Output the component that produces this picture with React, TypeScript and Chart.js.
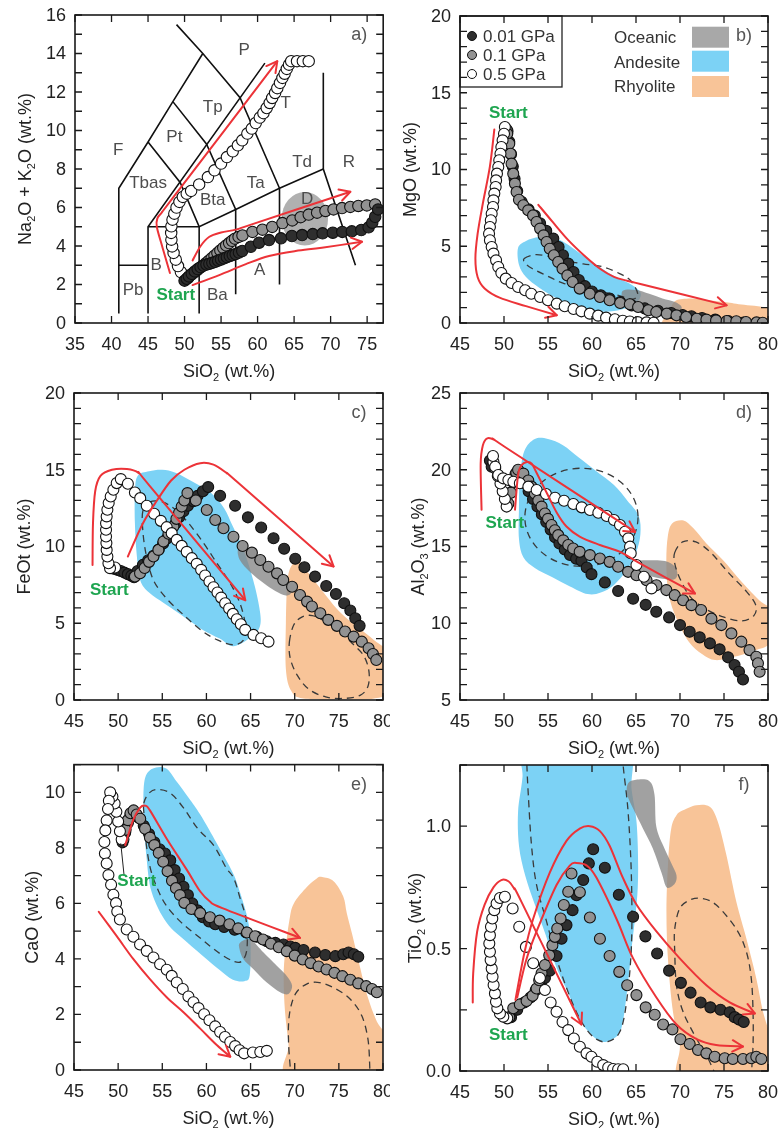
import React, { useEffect, useRef } from 'react';
import { Chart, registerables } from 'chart.js';

Chart.register(...registerables);

type P = [number, number];

const FONT = '"Liberation Sans", Arial, Helvetica, sans-serif';
const RED = '#ec3338';
const GREEN = '#1ea550';
const BLUE = '#7cd2f5';
const ORANGE = '#f8c498';
const OCEAN = 'rgba(135,135,135,0.78)';
const OCEAN_SOLID = '#b0b0b0';
const DASH = '#3a3a3a';
const FILL_001 = '#2e2e2e';
const FILL_01 = '#929292';
const FILL_05 = '#ffffff';

const seriesLabels = ['0.01 GPa', '0.1 GPa', '0.5 GPa'];
const fieldLabels = ['Oceanic', 'Andesite', 'Rhyolite'];
const xTitle = 'SiO_2 (wt.%)';

// ---------------- Panel a (TAS) ----------------
const aWhite: P[] = [[50.1,2.3],[49.5,2.65],[49.1,2.96],[48.8,3.29],[48.5,3.64],[48.3,3.98],[48.2,4.33],[48.17,4.68],[48.2,5.02],[48.35,5.37],[48.6,5.68],[48.9,6.0],[49.3,6.29],[49.76,6.55],[50.3,6.72],[50.9,6.86],[52.0,7.2],[53.2,7.58],[54.1,7.93],[55.0,8.28],[55.8,8.62],[56.6,8.92],[57.3,9.23],[57.9,9.49],[58.6,9.84],[59.2,10.1],[59.75,10.39],[60.3,10.67],[60.8,10.9],[61.25,11.17],[61.66,11.43],[62.0,11.69],[62.4,11.95],[62.7,12.2],[63.07,12.47],[63.4,12.73],[63.7,12.95],[64.0,13.2],[64.3,13.42],[64.6,13.6],[65.4,13.6],[66.2,13.6],[67.0,13.6]];
const aGray: P[] = [[50.5,2.35],[50.9,2.5],[51.3,2.62],[51.7,2.74],[52.1,2.86],[52.5,2.98],[52.9,3.1],[53.3,3.23],[53.7,3.36],[54.1,3.5],[54.5,3.63],[54.9,3.77],[55.3,3.9],[55.7,4.03],[56.1,4.15],[56.5,4.27],[56.9,4.38],[57.4,4.47],[57.93,4.55],[59.3,4.73],[60.66,4.85],[62.0,4.99],[63.4,5.19],[64.75,5.33],[65.9,5.5],[67.0,5.63],[68.15,5.73],[69.3,5.82],[70.4,5.9],[71.56,5.97],[72.7,6.03],[73.8,6.08],[74.96,6.11],[76.1,6.16]];
const aBlack: P[] = [[50.0,2.2],[50.3,2.3],[50.6,2.42],[51.0,2.55],[51.4,2.68],[51.8,2.8],[52.2,2.9],[52.6,2.98],[53.0,3.04],[53.4,3.08],[53.8,3.13],[54.2,3.18],[54.6,3.24],[55.0,3.3],[55.4,3.36],[55.8,3.42],[56.2,3.48],[56.6,3.53],[57.0,3.58],[57.45,3.66],[57.9,3.74],[59.07,3.96],[60.2,4.17],[61.57,4.31],[63.2,4.4],[64.7,4.52],[66.1,4.57],[67.56,4.62],[68.9,4.66],[70.3,4.69],[71.6,4.73],[72.9,4.76],[74.2,4.83],[75.2,4.97],[75.7,5.21],[76.1,5.52],[76.5,5.9]];
const tasLines: P[][] = [
  [[41,0.5],[41,7],[45,9.4],[48.4,11.5],[52.5,14]],
  [[48.9,15.5],[52.5,14],[57.6,11.7],[63,7]],
  [[41,3],[45,3]],
  [[45,0.5],[45,5],[61,13.5]],
  [[45,5],[52,5],[57,5.9],[63,7],[69,8]],
  [[45,9.4],[49.4,7.3],[52,5],[52,0.5]],
  [[48.4,11.5],[53,9.3],[57,5.9],[57,1.5]],
  [[63,7],[63,2]],
  [[69,13],[69,8],[73.4,3]],
];
const tasNames = ['P','Tp','T','Pt','F','Tbas','Bta','Ta','Td','R','D','B','Pb','Ba','A'];
const tasNameX = [58.16,53.85,63.84,48.6,40.9,45.0,53.85,59.75,66.1,72.5,66.8,46.1,42.95,54.5,60.3];
const tasNameY = [14.16,11.2,11.4,9.66,8.97,7.24,6.37,7.27,8.33,8.36,6.4,3.0,1.7,1.44,2.74];
const aOceanCenter: P = [66.47, 5.42];
const aOceanRadii: P = [3.18, 1.39];
const aArrows: P[][] = [
  [[48.0,2.6],[47.0,3.9],[46.2,5.0],[46.3,5.45],[46.9,5.75],[48.5,6.55],[62.7,13.6]],
  [[51.1,3.25],[52.2,4.0],[53.4,4.48],[55.0,4.7],[57.0,4.85],[59.0,5.1],[72.7,6.82]],
  [[51.1,1.97],[54.75,2.49],[58.4,3.06],[61.57,3.48],[65.2,3.74],[68.8,3.91],[74.3,4.22]],
];
const aStart: P = [48.8, 1.44];

// ---------------- Panel b (MgO) ----------------
const bWhite: P[] = [[50.1,12.77],[50.0,12.33],[49.84,11.9],[49.7,11.47],[49.6,11.03],[49.46,10.6],[49.35,10.16],[49.2,9.73],[49.1,9.29],[49.05,8.86],[48.9,8.43],[48.8,7.99],[48.75,7.56],[48.6,7.12],[48.5,6.69],[48.4,6.25],[48.3,5.82],[48.4,5.39],[48.6,4.95],[48.8,4.52],[49.1,4.08],[49.35,3.65],[49.7,3.26],[50.2,2.89],[50.86,2.61],[51.6,2.35],[52.4,2.13],[53.1,1.91],[54.1,1.69],[55.0,1.48],[56.0,1.26],[56.9,1.09],[57.9,0.91],[58.8,0.76],[59.75,0.61],[60.7,0.48],[61.6,0.35],[62.6,0.24],[63.5,0.15],[64.3,0.1],[65.2,0.06],[66.2,0.04],[67.0,0.02]];
const bGray: P[] = [[50.3,12.6],[50.37,12.33],[50.6,11.68],[50.75,11.03],[50.86,10.38],[51.05,9.73],[51.24,9.08],[51.43,8.53],[51.7,8.03],[52.2,7.67],[52.75,7.34],[53.3,7.01],[53.7,6.58],[54.1,6.15],[54.5,5.71],[54.84,5.28],[55.2,4.84],[55.67,4.41],[56.16,3.97],[56.65,3.54],[57.2,3.1],[57.8,2.67],[58.6,2.24],[59.75,1.91],[60.9,1.69],[62.0,1.48],[63.2,1.3],[64.3,1.22],[65.24,1.04],[66.4,0.83],[67.3,0.72],[68.5,0.61],[69.6,0.5],[70.7,0.39],[71.9,0.28],[73.0,0.22],[74.1,0.17],[75.3,0.13],[76.4,0.11],[77.5,0.07],[78.7,0.04],[79.4,0.02]];
const bBlack: P[] = [[50.4,12.5],[50.6,11.8],[50.8,11.0],[51.0,10.2],[51.2,9.4],[51.5,8.6],[52.0,7.9],[52.8,7.4],[53.5,7.0],[54.1,6.5],[54.8,6.0],[55.6,5.5],[56.2,4.95],[56.7,4.41],[57.3,3.87],[57.9,3.32],[58.5,2.8],[59.2,2.4],[60.0,2.05],[61.0,1.8],[62.0,1.6],[63.2,1.37],[64.5,1.15],[66.0,0.95],[67.5,0.8],[69.0,0.65],[70.3,0.52],[71.3,0.43],[72.5,0.33],[74.0,0.22],[75.5,0.12],[77.2,0.03]];
const bAndesite: P[] = [[51.6,4.9],[52.5,5.35],[54,5.6],[55.5,5.6],[57,5.2],[58.5,4.6],[60,4.0],[61.5,3.4],[63,2.9],[64.5,2.5],[65.5,2.0],[65.3,1.5],[64,1.0],[62,0.75],[60,0.8],[58,1.1],[56,1.6],[54,2.3],[52.5,3.0],[51.7,3.8]];
const bAndesiteDash: P[] = [[52.3,4.2],[53.5,4.45],[55,4.35],[57,4.05],[59,3.85],[61.3,3.65],[63.2,3.2],[64.4,2.75],[65.2,1.9],[64.6,1.55],[63,1.8],[61,2.05],[59,2.3],[56.7,2.6],[54.8,3.1],[53.2,3.55],[52.4,3.9]];
const bOceanic: P[] = [[63.5,2.1],[65,2.15],[66.5,1.9],[68,1.6],[69.5,1.35],[70.2,1.0],[69.5,0.65],[68,0.8],[66.5,1.0],[65,1.2],[63.6,1.5]];
const bRhyolite: P[] = [[68.8,-0.3],[68.9,0.8],[69.5,1.45],[71.2,1.6],[73,1.5],[75,1.37],[77,1.2],[80.5,0.85],[80.5,-0.3]];
const bArrows: P[][] = [
  [[48.9,12.6],[48.4,10.2],[47.6,7.8],[47.0,5.8],[46.75,4.2],[47.0,3.0],[47.8,2.25],[49.5,1.65],[52.5,1.1],[56.0,0.5]],
  [[53.9,7.7],[55.5,6.6],[57.3,5.4],[59.3,4.3],[61,3.5],[62.5,3.0],[64,2.75],[65.5,2.54],[75.3,1.15]],
];
const bStart: P = [50.49, 13.64];

// ---------------- Panel c (FeOt) ----------------
const cWhite: P[] = [[49.65,8.63],[49.08,8.59],[48.9,8.91],[48.78,9.35],[48.7,9.78],[48.67,10.22],[48.63,10.65],[48.63,11.09],[48.63,11.52],[48.7,11.96],[48.78,12.39],[48.93,12.83],[49.16,13.26],[49.46,13.7],[49.84,14.13],[50.3,14.39],[51.1,14.09],[51.9,13.52],[52.5,13.15],[53.24,12.65],[54.07,12.13],[54.83,11.67],[55.5,11.26],[56.07,10.87],[56.64,10.43],[57.2,10.04],[57.77,9.65],[58.34,9.24],[58.9,8.87],[59.4,8.48],[59.85,8.11],[60.34,7.72],[60.8,7.35],[61.25,7.0],[61.67,6.67],[62.12,6.3],[62.57,5.96],[63.0,5.61],[63.44,5.26],[63.9,4.93],[64.39,4.57],[65.33,4.24],[66.2,4.02],[67.03,3.8]];
const cGray: P[] = [[51.9,8.05],[52.48,8.26],[53.0,8.6],[53.5,9.0],[54.0,9.35],[54.56,9.78],[55.13,10.33],[55.7,10.83],[56.26,11.3],[56.6,11.8],[56.9,12.2],[57.2,12.6],[57.5,13.0],[57.85,13.48],[58.8,13.0],[60.04,12.38],[61.0,11.73],[61.93,11.19],[63.06,10.64],[64.1,10.03],[65.15,9.6],[66.1,9.12],[67.03,8.68],[68.0,8.25],[68.7,7.82],[69.7,7.38],[70.6,6.84],[71.4,6.41],[71.95,6.09],[72.9,5.65],[73.8,5.22],[74.78,4.83],[75.7,4.46],[76.67,4.13],[77.6,3.8],[78.37,3.37],[78.86,3.0],[79.24,2.61]];
const cBlack: P[] = [[49.5,8.55],[49.9,8.48],[50.3,8.4],[50.7,8.3],[51.1,8.2],[51.5,8.1],[51.8,8.0],[52.2,8.4],[52.8,8.8],[53.4,9.1],[54.0,9.4],[54.6,9.8],[55.1,10.2],[55.5,10.5],[56.0,11.0],[56.5,11.5],[56.9,11.9],[57.4,12.3],[57.9,12.65],[58.5,12.95],[59.0,13.3],[59.6,13.6],[60.2,13.87],[61.55,13.3],[63.25,12.65],[64.7,11.9],[66.2,11.24],[67.6,10.54],[68.8,9.85],[70.06,9.2],[71.1,8.65],[72.3,8.04],[73.57,7.43],[74.67,6.91],[75.6,6.3],[76.3,5.83],[76.86,5.33],[77.35,4.83]];
const cAndesite: P[] = [[52.2,14.6],[53.5,14.9],[55,15.0],[56.5,14.8],[58.5,14.2],[60.5,13.5],[62,12.5],[63,11.3],[64.2,9.8],[65.3,7.8],[66.0,6.0],[66.1,4.9],[65.3,4.2],[63.1,3.5],[61.5,4.0],[59.5,4.6],[57,5.6],[55.2,6.3],[53.5,7.0],[52.5,7.8],[52.1,9.5],[51.9,11.5],[51.9,13.5]];
const cAndesiteDash: P[] = [[52.8,12.3],[53.6,12.9],[55,12.9],[56.5,12.4],[58,11.5],[59.7,10.2],[61.2,8.9],[62.7,7.6],[63.8,6.3],[64.4,4.9],[64.2,3.9],[63,3.6],[61.3,3.9],[59.5,4.5],[57.5,5.5],[55.5,6.6],[54,7.8],[53.2,9.4],[52.8,11]];
const cOceanic: P[] = [[63.6,9.8],[64.6,9.7],[65.8,9.2],[67,8.6],[68.2,8.0],[69.3,7.5],[69.6,7.0],[69,6.8],[67.8,7.1],[66.5,7.6],[65,8.3],[63.8,9.1]];
const cRhyolite: P[] = [[69.2,7.9],[69.8,8.9],[70.4,9.1],[71.5,8.3],[73,7.2],[75,5.8],[77,4.8],[79,3.9],[80.5,3],[80.5,0.6],[79,0.1],[76,0.05],[71,0.1],[69.6,0.6],[69.0,2],[69.0,5]];
const cRhyoliteDash: P[] = [[69.4,3.8],[69.9,4.9],[70.8,5.4],[72,5.5],[73.5,5.1],[75,4.5],[76.5,3.7],[77.8,2.9],[78.4,1.9],[78.3,0.9],[77.4,0.3],[75.5,0.1],[73.5,0.2],[71.6,0.7],[70.3,1.6],[69.5,2.7]];
const cArrows: P[][] = [
  [[47.1,8.8],[47.15,11.5],[47.4,13.6],[48.0,14.6],[49.3,15.0],[51,15.05],[52.3,14.8],[53.5,14.0],[64.4,6.5]],
  [[51.1,9.35],[52.8,11.5],[54.4,13.0],[56,14.3],[57.5,15.0],[59.3,15.43],[60.8,15.33],[62.3,14.78],[63.5,14.2],[74.4,8.7]],
];
const cStart: P = [49.0, 7.17];

// ---------------- Panel d (Al2O3) ----------------
const dWhite: P[] = [[50.3,17.6],[50.1,18.1],[49.85,18.6],[49.6,19.1],[49.3,19.6],[49.0,20.1],[48.8,20.5],[48.75,20.9],[49.0,20.2],[49.35,19.66],[49.9,19.44],[50.5,19.33],[51.06,19.22],[51.8,19.12],[52.77,18.9],[53.71,18.68],[54.77,18.42],[55.8,18.18],[56.82,17.98],[57.88,17.77],[58.83,17.55],[59.77,17.38],[60.72,17.2],[61.67,16.99],[62.5,16.73],[63.18,16.4],[63.75,15.96],[64.13,15.53],[64.32,14.99],[64.4,14.56],[65.05,13.79],[65.9,13.03],[66.76,12.27]];
const dGray: P[] = [[50.5,17.8],[50.8,18.5],[51.1,19.2],[51.4,19.8],[51.6,20.0],[52.2,19.75],[52.76,19.3],[53.13,18.9],[53.5,18.45],[53.9,18.0],[54.27,17.6],[54.65,17.15],[55.0,16.8],[55.4,16.4],[55.78,16.06],[56.16,15.74],[56.73,15.4],[57.3,15.1],[57.86,14.87],[58.6,14.65],[59.76,14.44],[60.9,14.22],[62.0,14.0],[62.97,13.68],[64.1,13.35],[65.05,13.13],[66.2,12.8],[67.32,12.48],[68.45,12.16],[69.4,11.83],[70.35,11.5],[71.3,11.18],[72.4,10.86],[73.57,10.3],[74.7,9.88],[75.84,9.34],[76.97,8.8],[77.9,8.25],[78.67,7.82],[78.86,7.39],[79.05,6.84]];
const dBlack: P[] = [[48.4,20.6],[48.6,20.2],[50.4,17.7],[50.7,18.5],[51.0,19.2],[51.3,19.7],[51.8,19.6],[52.3,19.1],[52.8,18.6],[53.3,18.1],[53.8,17.6],[54.3,17.1],[54.8,16.6],[55.3,16.1],[55.8,15.6],[56.3,15.2],[56.9,14.8],[57.5,14.45],[58.2,14.2],[58.8,14.07],[59.4,13.63],[59.94,13.2],[61.46,12.66],[62.97,12.1],[64.67,11.6],[66.1,11.2],[67.3,10.75],[68.76,10.38],[70.0,9.88],[71.1,9.45],[72.24,9.08],[73.4,8.69],[74.5,8.3],[75.46,7.78],[76.2,7.28],[76.7,6.84],[77.16,6.34]];
const dAndesite: P[] = [[52.3,21.2],[53.5,22.0],[55,22.0],[56.7,21.6],[58.5,20.8],[60.5,19.9],[62.5,19.0],[64,18.0],[65.3,17],[65.5,15.8],[65,14.6],[64,13.5],[62.5,12.5],[61,12],[59.5,11.9],[57.5,12.4],[55.5,13],[53.5,13.6],[52.2,14.3],[51.7,15.5],[51.7,17.5],[51.8,19.5]];
const dAndesiteCenter: P = [58.8, 16.9];
const dAndesiteRadii: P = [6.43, 3.2];
const dOceanic: P[] = [[64.8,14.0],[66.5,14.1],[68.3,14.05],[69.4,13.7],[69.7,13.2],[69.3,12.85],[68,12.9],[66.5,13.1],[65,13.4]];
const dRhyolite: P[] = [[68.6,15.6],[69.1,16.5],[70.4,16.7],[71.5,16.2],[73,15.2],[74.9,14.1],[77,12.7],[79,11.5],[80.3,10.8],[80.3,8.8],[78.3,8.2],[76,7.8],[74,7.6],[72.5,8.0],[71,8.8],[69.6,10.3],[68.7,11.9],[68.45,13.9]];
const dRhyoliteDash: P[] = [[69.4,14.6],[70.3,15.3],[71.8,15.3],[73.5,14.6],[75.5,13.3],[77.5,12.1],[78.6,11.2],[78.4,10.5],[77,10.15],[75,10.4],[73,10.9],[71.2,11.7],[70,12.9],[69.4,13.9]];
const dArrows: P[][] = [
  [[47.45,17.4],[47.35,20.4],[47.6,21.6],[48.1,22.05],[48.9,21.95],[50.2,21.45],[64.9,15.95]],
  [[51.25,17.4],[51.6,19.66],[52.0,20.3],[52.6,20.5],[53.15,20.4],[53.7,19.8],[54.85,18.5],[56.0,17.2],[57.1,16.3],[58.6,15.65],[60.9,15.1],[63.2,14.65],[65.45,13.9],[71.7,11.94]],
];
const dStart: P = [50.1, 16.5];

// ---------------- Panel e (CaO) ----------------
const eWhite: P[] = [[50.4,8.3],[50.2,8.6],[50.0,8.95],[49.8,9.3],[49.6,9.6],[49.35,9.85],[49.1,10.0],[48.95,9.7],[48.85,9.4],[48.7,8.99],[48.55,8.63],[48.44,8.21],[48.5,7.8],[48.7,7.44],[48.9,7.02],[49.2,6.67],[49.46,6.31],[49.76,6.01],[49.9,5.71],[50.2,5.42],[50.97,5.06],[51.73,4.8],[52.48,4.52],[53.24,4.29],[54.0,4.05],[54.75,3.81],[55.5,3.61],[56.07,3.39],[56.64,3.15],[57.32,2.92],[57.96,2.65],[58.53,2.44],[59.1,2.23],[59.74,2.01],[60.34,1.79],[60.99,1.57],[61.55,1.37],[62.1,1.19],[62.7,1.01],[63.25,0.86],[63.75,0.71],[64.27,0.6],[65.26,0.63],[66.1,0.65],[66.84,0.69]];
const eGray: P[] = [[50.6,8.3],[50.85,8.65],[51.1,9.0],[51.4,9.25],[51.75,9.35],[52.1,9.2],[52.5,9.05],[53.05,8.69],[53.6,8.37],[54.1,8.1],[54.6,7.82],[55.1,7.5],[55.6,7.16],[56.1,6.82],[56.55,6.55],[57.0,6.3],[57.5,6.02],[58.3,5.8],[59.3,5.65],[60.4,5.5],[61.5,5.38],[62.6,5.25],[63.6,5.1],[64.6,4.95],[65.5,4.82],[66.4,4.7],[67.3,4.55],[68.2,4.42],[69.1,4.28],[70.0,4.12],[70.9,3.98],[71.8,3.85],[72.7,3.73],[73.6,3.62],[74.5,3.5],[75.4,3.38],[76.3,3.25],[77.2,3.12],[78.1,3.02],[78.75,2.92],[79.3,2.8]];
const eBlack: P[] = [[50.5,8.2],[50.8,8.55],[51.1,8.9],[51.4,9.2],[51.7,9.3],[52.3,9.1],[52.9,8.8],[53.5,8.5],[54.1,8.2],[54.7,7.95],[55.3,7.8],[55.9,7.55],[56.4,7.2],[56.9,6.9],[57.4,6.6],[57.9,6.3],[58.4,6.0],[59.0,5.75],[59.6,5.5],[60.3,5.35],[61.0,5.25],[62.0,5.15],[63.2,5.05],[64.5,4.95],[65.7,4.8],[66.84,4.64],[67.8,4.58],[68.73,4.52],[69.5,4.45],[70.06,4.4],[71.0,4.32],[72.3,4.23],[73.46,4.14],[74.6,4.1],[75.5,4.17],[76.1,4.23],[76.7,4.17],[77.2,4.08]];
const eAndesite: P[] = [[52.9,10.2],[53.3,10.7],[54.3,10.9],[55.5,10.85],[56.6,10.4],[58,9.8],[59.3,9.2],[61.2,8.15],[63.0,7.1],[63.8,6.4],[64.7,5.4],[65.0,4.5],[64.9,3.4],[64.3,3.2],[63.0,3.25],[61.5,3.6],[60,4.0],[57.8,4.6],[55.5,5.3],[53.8,6.4],[53.2,7.7],[52.9,9.2]];
const eAndesiteDash: P[] = [[52.9,9.6],[53.6,10.0],[54.6,10.1],[56,9.95],[57.5,9.4],[59,8.7],[60.8,8.1],[62.2,7.3],[63.1,6.9],[63.8,6.2],[64.5,5.4],[64.6,4.4],[64.1,3.95],[63.2,3.9],[61.5,4.2],[59.5,4.7],[57.2,5.3],[55.5,5.9],[54.5,6.5],[53.7,7.2],[53.2,8.1],[53.0,9.0]];
const eOceanic: P[] = [[63.8,4.58],[64.96,4.7],[66.47,4.23],[67.6,3.87],[69.1,3.39],[69.7,3.04],[69.3,2.74],[68.35,2.8],[66.84,3.15],[65.33,3.63],[64.2,3.99],[63.75,4.35]];
const eRhyolite: P[] = [[69.5,-0.3],[69.3,0.9],[68.9,2.1],[68.75,3.3],[68.9,4.2],[69.4,5.4],[69.9,6.0],[71.4,6.6],[72.5,6.9],[73.1,6.95],[74.4,6.8],[75.5,6.25],[75.9,5.65],[76.5,4.9],[77.25,3.9],[78.2,2.7],[79.3,1.75],[80.5,1.1],[80.5,-0.3]];
const eRhyoliteDash: P[] = [[69.6,-0.3],[69.3,1.0],[69.4,2.0],[70.1,2.75],[71.4,3.1],[72.8,3.15],[74.5,2.95],[76.3,2.55],[77.6,1.95],[78.3,1.1],[78.5,0.1],[78.5,-0.3]];
const eArrows: P[][] = [
  [[47.8,5.7],[49.84,4.82],[51.73,3.99],[53.6,3.27],[55.5,2.62],[57.4,2.08],[59.3,1.49],[61.2,0.89],[62.7,0.48]],
  [[50.8,8.1],[51.7,9.0],[52.5,9.45],[53.05,9.52],[53.6,9.35],[55.5,8.33],[57.8,7.2],[59.3,6.43],[60.4,6.07],[61.8,5.83],[70.6,4.76]],
];
const eStart: P = [52.1, 6.79];
const eStartPointer: P[] = [[50.67, 7.02], [50.3, 8.15]];

// ---------------- Panel f (TiO2) ----------------
const fWhite: P[] = [[50.37,0.215],[49.92,0.222],[49.54,0.235],[49.24,0.256],[49.09,0.283],[48.97,0.317],[48.82,0.351],[48.7,0.385],[48.6,0.419],[48.48,0.453],[48.4,0.487],[48.33,0.521],[48.4,0.555],[48.52,0.589],[48.67,0.623],[48.9,0.657],[49.16,0.684],[49.54,0.707],[50.1,0.712],[50.98,0.664],[51.73,0.589],[52.49,0.507],[53.32,0.44],[54.08,0.38],[54.65,0.331],[55.3,0.28],[55.97,0.242],[56.65,0.2],[57.3,0.167],[57.94,0.133],[58.62,0.099],[59.38,0.072],[59.94,0.058],[60.6,0.038],[61.27,0.024],[61.84,0.014],[62.4,0.008],[62.97,0.007],[63.54,0.007]];
const fGray: P[] = [[50.6,0.22],[51.05,0.256],[51.8,0.272],[52.57,0.286],[53.25,0.307],[53.7,0.337],[54.0,0.371],[54.27,0.399],[54.65,0.433],[55.14,0.473],[55.5,0.514],[55.78,0.548],[56.05,0.582],[56.43,0.623],[56.8,0.678],[57.3,0.732],[57.67,0.807],[58.62,0.73],[59.76,0.627],[60.9,0.54],[62.0,0.47],[63.1,0.405],[64.0,0.35],[65.05,0.31],[66.1,0.26],[67.13,0.23],[68.08,0.19],[69.14,0.17],[70.05,0.13],[71.1,0.11],[72.05,0.086],[73.0,0.072],[73.95,0.058],[75.08,0.052],[76.0,0.049],[77.16,0.049],[78.1,0.052],[78.67,0.058],[79.24,0.049]];
const fBlack: P[] = [[50.8,0.22],[51.5,0.25],[52.3,0.28],[53.0,0.3],[53.6,0.33],[54.2,0.36],[54.65,0.38],[55.2,0.41],[55.97,0.47],[56.54,0.54],[57.1,0.596],[57.79,0.657],[58.24,0.718],[59.0,0.78],[59.64,0.848],[60.13,0.906],[61.46,0.83],[63.05,0.72],[64.67,0.63],[66.07,0.55],[67.4,0.48],[68.76,0.41],[70.1,0.36],[71.2,0.32],[72.35,0.28],[73.45,0.26],[74.6,0.25],[75.65,0.24],[76.2,0.22],[76.7,0.21],[77.24,0.2]];
const fAndesite: P[] = [[52.5,1.4],[52.1,1.2],[51.6,1.06],[51.7,0.92],[52.4,0.8],[53.5,0.68],[54.7,0.56],[56,0.42],[57.3,0.32],[58.3,0.23],[59.6,0.16],[61,0.12],[62.3,0.13],[63.3,0.17],[63.9,0.3],[64.5,0.5],[65.2,0.75],[65.1,1.0],[64.5,1.15],[63.7,1.4]];
const fAndesiteDash: P[] = [[52.55,1.35],[52.6,1.25],[52.76,1.13],[53.13,0.92],[53.7,0.76],[54.84,0.61],[55.97,0.46],[57.1,0.34],[58.24,0.24],[59.38,0.17],[60.5,0.13],[61.8,0.12],[63.16,0.16],[63.92,0.28],[64.48,0.51],[64.48,0.79],[64.1,1.06],[63.54,1.25],[63.5,1.35]];
const fOceanic: P[] = [[64.0,1.13],[64.1,1.175],[65.0,1.19],[66.5,1.185],[67.1,1.13],[67.3,1.0],[68.1,0.92],[69.0,0.85],[69.6,0.8],[69.4,0.765],[68.5,0.75],[67.9,0.81],[66.9,0.91],[65.8,0.99],[64.7,1.07]];
const fRhyolite: P[] = [[70.35,-0.05],[69.97,0.106],[69.2,0.242],[68.65,0.446],[68.46,0.65],[68.65,0.854],[69.0,0.99],[69.6,1.045],[70.35,1.065],[71.86,1.086],[73.38,1.079],[74.3,1.018],[75.27,0.882],[76.4,0.691],[77.54,0.541],[78.67,0.378],[79.43,0.242],[80.5,0.1],[80.5,-0.05]];
const fRhyoliteDash: P[] = [[74.1,-0.02],[73.0,0.065],[71.86,0.133],[70.35,0.242],[69.6,0.35],[69.4,0.49],[69.4,0.58],[69.97,0.664],[71.1,0.698],[72.43,0.705],[74.13,0.678],[76.4,0.58],[77.54,0.487],[78.1,0.378],[78.3,0.242],[78.3,0.106],[78.1,-0.02]];
const fArrows: P[][] = [
  [[46.45,0.28],[46.5,0.4],[46.95,0.57],[47.8,0.68],[48.8,0.75],[49.7,0.78],[50.5,0.775],[51.15,0.745],[52.0,0.69],[58.8,0.19]],
  [[51.3,0.29],[52.3,0.48],[53.3,0.62],[55.2,0.81],[57.1,0.94],[58.6,0.99],[59.76,1.0],[60.9,0.98],[62.0,0.92],[63.5,0.79],[65.05,0.68],[67.32,0.57],[69.97,0.46],[73.0,0.35],[75.65,0.28],[78.5,0.235]],
  [[51.5,0.3],[52.5,0.45],[53.7,0.57],[55.97,0.76],[57.5,0.84],[58.24,0.85],[59.38,0.84],[60.5,0.79],[62.8,0.62],[64.67,0.46],[67.32,0.3],[69.6,0.19],[71.9,0.13],[74.1,0.106],[77.16,0.1]],
];
const fStart: P = [50.5, 0.147];

// ---------------- helpers ----------------
type Shape = { pts: P[]; color?: string; closed: boolean };
type Ell = { c: P; r: P; color?: string; dashed?: boolean };

interface PanelCfg {
  id: string;
  x: number; y: number; w: number; h: number;
  pad: { left: number; top: number; right: number; bottom: number };
  xMin: number; xMax: number; xStep: number;
  yMin: number; yMax: number; yStep: number; yLabelStep: number; yDec: number;
  yTitle: string; yTitleOff: number;
  white: P[]; gray: P[]; black: P[];
  blackOnTop?: boolean;
  radius: number;
  fills: Shape[];
  dashes: Shape[];
  ellipses: Ell[];
  arrows: P[][];
  start: P;
  pointer?: P[];
  letter: string;
  tas?: boolean;
  legend?: boolean;
}

function richSegs(s: string) {
  const segs: { t: string; sub: boolean }[] = [];
  let buf = '';
  for (let i = 0; i < s.length; i++) {
    if (s[i] === '_' && i + 1 < s.length) {
      if (buf) { segs.push({ t: buf, sub: false }); buf = ''; }
      segs.push({ t: s[i + 1], sub: true });
      i++;
    } else buf += s[i];
  }
  if (buf) segs.push({ t: buf, sub: false });
  return segs;
}

function drawRich(ctx: CanvasRenderingContext2D, s: string, x: number, y: number, size: number, color: string) {
  const segs = richSegs(s);
  const sub = Math.round(size * 0.62);
  const widths = segs.map((g) => {
    ctx.font = `${g.sub ? sub : size}px ${FONT}`;
    return ctx.measureText(g.t).width;
  });
  const total = widths.reduce((a, b) => a + b, 0);
  let cx = x - total / 2;
  ctx.textAlign = 'left';
  ctx.textBaseline = 'alphabetic';
  ctx.fillStyle = color;
  const base = y + size * 0.36;
  segs.forEach((g, i) => {
    ctx.font = `${g.sub ? sub : size}px ${FONT}`;
    ctx.fillText(g.t, cx, base + (g.sub ? size * 0.22 : 0));
    cx += widths[i];
  });
}

function px(chart: any, p: P): [number, number] {
  return [chart.scales.x.getPixelForValue(p[0]), chart.scales.y.getPixelForValue(p[1])];
}

function splinePath(ctx: CanvasRenderingContext2D, pts: [number, number][], closed: boolean) {
  const n = pts.length;
  if (n < 2) return;
  const get = (i: number) => (closed ? pts[(i + n) % n] : pts[Math.max(0, Math.min(n - 1, i))]);
  ctx.moveTo(pts[0][0], pts[0][1]);
  const segs = closed ? n : n - 1;
  for (let i = 0; i < segs; i++) {
    const p0 = get(i - 1), p1 = get(i), p2 = get(i + 1), p3 = get(i + 2);
    const c1x = p1[0] + (p2[0] - p0[0]) / 6;
    const c1y = p1[1] + (p2[1] - p0[1]) / 6;
    const c2x = p2[0] - (p3[0] - p1[0]) / 6;
    const c2y = p2[1] - (p3[1] - p1[1]) / 6;
    ctx.bezierCurveTo(c1x, c1y, c2x, c2y, p2[0], p2[1]);
  }
  if (closed) ctx.closePath();
}

function ticksOf(min: number, max: number, step: number) {
  const out: number[] = [];
  let v = Math.ceil(min / step - 1e-9) * step;
  while (v <= max + 1e-9) { out.push(Math.round(v * 1000) / 1000); v += step; }
  return out;
}

function makePlugin(cfg: PanelCfg) {
  return {
    id: 'panel_' + cfg.id,
    beforeDatasetsDraw(chart: any) {
      const ctx: CanvasRenderingContext2D = chart.ctx;
      const a = chart.chartArea;
      ctx.save();
      ctx.beginPath();
      ctx.rect(a.left, a.top, a.right - a.left, a.bottom - a.top);
      ctx.clip();
      for (const f of cfg.fills) {
        ctx.beginPath();
        splinePath(ctx, f.pts.map((p) => px(chart, p)), true);
        ctx.fillStyle = f.color || BLUE;
        ctx.fill();
      }
      for (const e of cfg.ellipses) {
        const c = px(chart, e.c);
        const rx = Math.abs(chart.scales.x.getPixelForValue(e.c[0] + e.r[0]) - c[0]);
        const ry = Math.abs(chart.scales.y.getPixelForValue(e.c[1] + e.r[1]) - c[1]);
        ctx.beginPath();
        ctx.ellipse(c[0], c[1], rx, ry, 0, 0, Math.PI * 2);
        if (e.dashed) {
          ctx.setLineDash([7, 5]);
          ctx.strokeStyle = DASH;
          ctx.lineWidth = 1.3;
          ctx.stroke();
          ctx.setLineDash([]);
        } else {
          ctx.fillStyle = e.color || OCEAN_SOLID;
          ctx.fill();
        }
      }
      ctx.setLineDash([7, 5]);
      ctx.strokeStyle = DASH;
      ctx.lineWidth = 1.3;
      for (const d of cfg.dashes) {
        ctx.beginPath();
        splinePath(ctx, d.pts.map((p) => px(chart, p)), d.closed);
        ctx.stroke();
      }
      ctx.setLineDash([]);
      if (cfg.tas) {
        ctx.strokeStyle = '#111';
        ctx.lineWidth = 1.6;
        ctx.lineJoin = 'miter';
        for (const line of tasLines) {
          ctx.beginPath();
          line.forEach((p, i) => {
            const q = px(chart, p);
            if (i === 0) ctx.moveTo(q[0], q[1]); else ctx.lineTo(q[0], q[1]);
          });
          ctx.stroke();
        }
        ctx.fillStyle = '#4d4d4d';
        ctx.font = `17px ${FONT}`;
        ctx.textAlign = 'center';
        ctx.textBaseline = 'middle';
        tasNames.forEach((nm, i) => {
          const q = px(chart, [tasNameX[i], tasNameY[i]]);
          ctx.fillText(nm, q[0], q[1]);
        });
      }
      ctx.restore();
    },
    afterDatasetsDraw(chart: any) {
      const ctx: CanvasRenderingContext2D = chart.ctx;
      const a = chart.chartArea;
      ctx.save();
      ctx.beginPath();
      ctx.rect(a.left, a.top, a.right - a.left, a.bottom - a.top);
      ctx.clip();
      ctx.strokeStyle = RED;
      ctx.lineWidth = 2;
      ctx.lineCap = 'round';
      ctx.lineJoin = 'round';
      for (const arr of cfg.arrows) {
        const pp = arr.map((p) => px(chart, p));
        ctx.beginPath();
        splinePath(ctx, pp, false);
        ctx.stroke();
        const e = pp[pp.length - 1], s = pp[pp.length - 2];
        const ang = Math.atan2(e[1] - s[1], e[0] - s[0]);
        const L = 12, sp = 0.5;
        ctx.beginPath();
        ctx.moveTo(e[0] - L * Math.cos(ang - sp), e[1] - L * Math.sin(ang - sp));
        ctx.lineTo(e[0], e[1]);
        ctx.lineTo(e[0] - L * Math.cos(ang + sp), e[1] - L * Math.sin(ang + sp));
        ctx.stroke();
      }
      if (cfg.pointer) {
        const p1 = px(chart, cfg.pointer[0]), p2 = px(chart, cfg.pointer[1]);
        ctx.strokeStyle = '#222';
        ctx.lineWidth = 1;
        ctx.beginPath();
        ctx.moveTo(p1[0], p1[1]);
        ctx.lineTo(p2[0], p2[1]);
        ctx.stroke();
      }
      ctx.restore();
      ctx.save();
      const st = px(chart, cfg.start);
      ctx.font = `bold 17px ${FONT}`;
      ctx.fillStyle = GREEN;
      ctx.textAlign = 'center';
      ctx.textBaseline = 'middle';
      ctx.fillText('Start', st[0], st[1]);
      ctx.font = `18px ${FONT}`;
      ctx.fillStyle = '#555';
      ctx.fillText(cfg.letter, a.right - 24, a.top + 20);
      if (cfg.legend) {
        ctx.fillStyle = '#fff';
        ctx.fillRect(a.left, a.top, 102, 71);
        ctx.strokeStyle = '#222';
        ctx.lineWidth = 1.3;
        ctx.strokeRect(a.left, a.top, 102, 71);
        const fills = [FILL_001, FILL_01, FILL_05];
        seriesLabels.forEach((lb, i) => {
          const yy = a.top + 20 + i * 19;
          ctx.beginPath();
          ctx.arc(a.left + 12, yy, 4.5, 0, Math.PI * 2);
          ctx.fillStyle = fills[i];
          ctx.fill();
          ctx.strokeStyle = '#111';
          ctx.lineWidth = 1;
          ctx.stroke();
          ctx.fillStyle = '#333';
          ctx.font = `17px ${FONT}`;
          ctx.textAlign = 'left';
          ctx.textBaseline = 'middle';
          ctx.fillText(lb, a.left + 23, yy + 1);
        });
        const sw = ['#a8a8a8', BLUE, ORANGE];
        const swTop = [10.7, 34.7, 60];
        const txtY = [22.3, 47.3, 71.3];
        fieldLabels.forEach((lb, i) => {
          ctx.fillStyle = sw[i];
          ctx.fillRect(a.left + 232, a.top + swTop[i], 37, 21);
          ctx.fillStyle = '#333';
          ctx.font = `17px ${FONT}`;
          ctx.textAlign = 'left';
          ctx.textBaseline = 'middle';
          ctx.fillText(lb, a.left + 154, a.top + txtY[i]);
        });
      }
      ctx.restore();
    },
    afterDraw(chart: any) {
      const ctx: CanvasRenderingContext2D = chart.ctx;
      const a = chart.chartArea;
      const xs = chart.scales.x, ys = chart.scales.y;
      ctx.save();
      ctx.strokeStyle = '#1a1a1a';
      ctx.lineWidth = 1.3;
      const TL = 7;
      const xt = ticksOf(cfg.xMin, cfg.xMax, cfg.xStep);
      const yt = ticksOf(cfg.yMin, cfg.yMax, cfg.yStep);
      ctx.beginPath();
      for (const v of xt) {
        const p = xs.getPixelForValue(v);
        ctx.moveTo(p, a.bottom); ctx.lineTo(p, a.bottom - TL);
        ctx.moveTo(p, a.top); ctx.lineTo(p, a.top + TL);
      }
      for (const v of yt) {
        const p = ys.getPixelForValue(v);
        ctx.moveTo(a.left, p); ctx.lineTo(a.left + TL, p);
        ctx.moveTo(a.right, p); ctx.lineTo(a.right - TL, p);
      }
      ctx.stroke();
      ctx.lineWidth = 1.6;
      ctx.strokeRect(a.left, a.top, a.right - a.left, a.bottom - a.top);
      ctx.fillStyle = '#222';
      ctx.font = `18px ${FONT}`;
      ctx.textAlign = 'center';
      ctx.textBaseline = 'middle';
      for (const v of xt) ctx.fillText(String(v), xs.getPixelForValue(v), a.bottom + 22);
      ctx.textAlign = 'right';
      for (const v of yt) {
        const r = v / cfg.yLabelStep;
        if (Math.abs(r - Math.round(r)) > 1e-6) continue;
        ctx.fillText(v.toFixed(cfg.yDec), a.left - 9, ys.getPixelForValue(v) + 1);
      }
      drawRich(ctx, xTitle, (a.left + a.right) / 2, a.bottom + 48, 18, '#222');
      ctx.save();
      ctx.translate(a.left - cfg.yTitleOff, (a.top + a.bottom) / 2);
      ctx.rotate(-Math.PI / 2);
      drawRich(ctx, cfg.yTitle, 0, 0, 18, '#222');
      ctx.restore();
      ctx.restore();
    },
  };
}

function buildConfig(cfg: PanelCfg): any {
  const mk = (label: string, pts: P[], fill: string, order: number) => ({
    label,
    data: pts.map(([x, y]) => ({ x, y })),
    backgroundColor: fill,
    borderColor: '#111',
    borderWidth: 1.1,
    pointRadius: cfg.radius,
    pointHoverRadius: cfg.radius,
    showLine: false,
    order,
  });
  const datasets = cfg.blackOnTop
    ? [mk(seriesLabels[0], cfg.black, FILL_001, 0), mk(seriesLabels[1], cfg.gray, FILL_01, 1), mk(seriesLabels[2], cfg.white, FILL_05, 2)]
    : [mk(seriesLabels[2], cfg.white, FILL_05, 0), mk(seriesLabels[1], cfg.gray, FILL_01, 1), mk(seriesLabels[0], cfg.black, FILL_001, 2)];
  return {
    type: 'scatter',
    data: { datasets },
    options: {
      animation: false,
      responsive: false,
      maintainAspectRatio: false,
      events: [],
      layout: { padding: cfg.pad },
      scales: {
        x: { type: 'linear', min: cfg.xMin, max: cfg.xMax, display: false },
        y: { type: 'linear', min: cfg.yMin, max: cfg.yMax, display: false },
      },
      plugins: { legend: { display: false }, tooltip: { enabled: false } },
    },
    plugins: [makePlugin(cfg)],
  };
}

const panels: PanelCfg[] = [
  {
    id: 'a', x: 0, y: 0, w: 390, h: 382,
    pad: { left: 75, top: 15, right: 5, bottom: 59 },
    xMin: 35, xMax: 77.2, xStep: 5, yMin: 0, yMax: 16, yStep: 1, yLabelStep: 2, yDec: 0,
    yTitle: 'Na_2O + K_2O (wt.%)', yTitleOff: 50,
    white: aWhite, gray: aGray, black: aBlack, blackOnTop: true, radius: 5.7,
    fills: [], dashes: [], ellipses: [{ c: aOceanCenter, r: aOceanRadii, color: OCEAN_SOLID }],
    arrows: aArrows, start: aStart, letter: 'a)', tas: true,
  },
  {
    id: 'b', x: 390, y: 0, w: 391, h: 382,
    pad: { left: 70, top: 16, right: 13, bottom: 59 },
    xMin: 45, xMax: 80, xStep: 5, yMin: 0, yMax: 20, yStep: 1, yLabelStep: 5, yDec: 0,
    yTitle: 'MgO (wt.%)', yTitleOff: 50,
    white: bWhite, gray: bGray, black: bBlack, radius: 5.5,
    fills: [{ pts: bAndesite, color: BLUE, closed: true }, { pts: bRhyolite, color: ORANGE, closed: true }, { pts: bOceanic, color: OCEAN, closed: true }],
    dashes: [{ pts: bAndesiteDash, closed: true }], ellipses: [],
    arrows: bArrows, start: bStart, letter: 'b)', legend: true,
  },
  {
    id: 'c', x: 0, y: 382, w: 390, h: 376,
    pad: { left: 74, top: 11, right: 7, bottom: 58 },
    xMin: 45, xMax: 80, xStep: 5, yMin: 0, yMax: 20, yStep: 1, yLabelStep: 5, yDec: 0,
    yTitle: 'FeOt (wt.%)', yTitleOff: 50,
    white: cWhite, gray: cGray, black: cBlack, radius: 5.5,
    fills: [{ pts: cAndesite, color: BLUE, closed: true }, { pts: cRhyolite, color: ORANGE, closed: true }, { pts: cOceanic, color: OCEAN, closed: true }],
    dashes: [{ pts: cAndesiteDash, closed: true }, { pts: cRhyoliteDash, closed: true }], ellipses: [],
    arrows: cArrows, start: cStart, letter: 'c)',
  },
  {
    id: 'd', x: 390, y: 382, w: 391, h: 376,
    pad: { left: 70, top: 11, right: 13, bottom: 58 },
    xMin: 45, xMax: 80, xStep: 5, yMin: 5, yMax: 25, yStep: 1, yLabelStep: 5, yDec: 0,
    yTitle: 'Al_2O_3 (wt.%)', yTitleOff: 42,
    white: dWhite, gray: dGray, black: dBlack, radius: 5.5,
    fills: [{ pts: dAndesite, color: BLUE, closed: true }, { pts: dRhyolite, color: ORANGE, closed: true }, { pts: dOceanic, color: OCEAN, closed: true }],
    dashes: [{ pts: dRhyoliteDash, closed: true }],
    ellipses: [{ c: dAndesiteCenter, r: dAndesiteRadii, dashed: true }],
    arrows: dArrows, start: dStart, letter: 'd)',
  },
  {
    id: 'e', x: 0, y: 758, w: 390, h: 370,
    pad: { left: 74, top: 4, right: 7, bottom: 58 },
    xMin: 45, xMax: 80, xStep: 5, yMin: 0, yMax: 11, yStep: 1, yLabelStep: 2, yDec: 0,
    yTitle: 'CaO (wt.%)', yTitleOff: 42,
    white: eWhite, gray: eGray, black: eBlack, radius: 5.5,
    fills: [{ pts: eAndesite, color: BLUE, closed: true }, { pts: eRhyolite, color: ORANGE, closed: true }, { pts: eOceanic, color: OCEAN, closed: true }],
    dashes: [{ pts: eAndesiteDash, closed: true }, { pts: eRhyoliteDash, closed: false }], ellipses: [],
    arrows: eArrows, start: eStart, pointer: eStartPointer, letter: 'e)',
  },
  {
    id: 'f', x: 390, y: 758, w: 391, h: 370,
    pad: { left: 70, top: 7, right: 13, bottom: 57 },
    xMin: 45, xMax: 80, xStep: 5, yMin: 0, yMax: 1.25, yStep: 0.25, yLabelStep: 0.5, yDec: 1,
    yTitle: 'TiO_2 (wt.%)', yTitleOff: 45,
    white: fWhite, gray: fGray, black: fBlack, radius: 5.5,
    fills: [{ pts: fAndesite, color: BLUE, closed: true }, { pts: fRhyolite, color: ORANGE, closed: true }, { pts: fOceanic, color: OCEAN, closed: true }],
    dashes: [{ pts: fAndesiteDash, closed: false }, { pts: fRhyoliteDash, closed: false }], ellipses: [],
    arrows: fArrows, start: fStart, letter: 'f)',
  },
];

function Panel({ cfg }: { cfg: PanelCfg }) {
  const ref = useRef<HTMLCanvasElement>(null);
  useEffect(() => {
    const c = ref.current;
    if (!c) return;
    const chart = new Chart(c, buildConfig(cfg));
    return () => chart.destroy();
  }, [cfg]);
  return (
    <canvas
      ref={ref}
      width={cfg.w}
      height={cfg.h}
      style={{ position: 'absolute', left: cfg.x, top: cfg.y, width: cfg.w, height: cfg.h }}
    />
  );
}

export default function App() {
  return (
    <div style={{ position: 'absolute', left: 0, top: 0, width: 781, height: 1128, background: '#fff', overflow: 'hidden' }}>
      {panels.map((p) => (
        <Panel key={p.id} cfg={p} />
      ))}
    </div>
  );
}
